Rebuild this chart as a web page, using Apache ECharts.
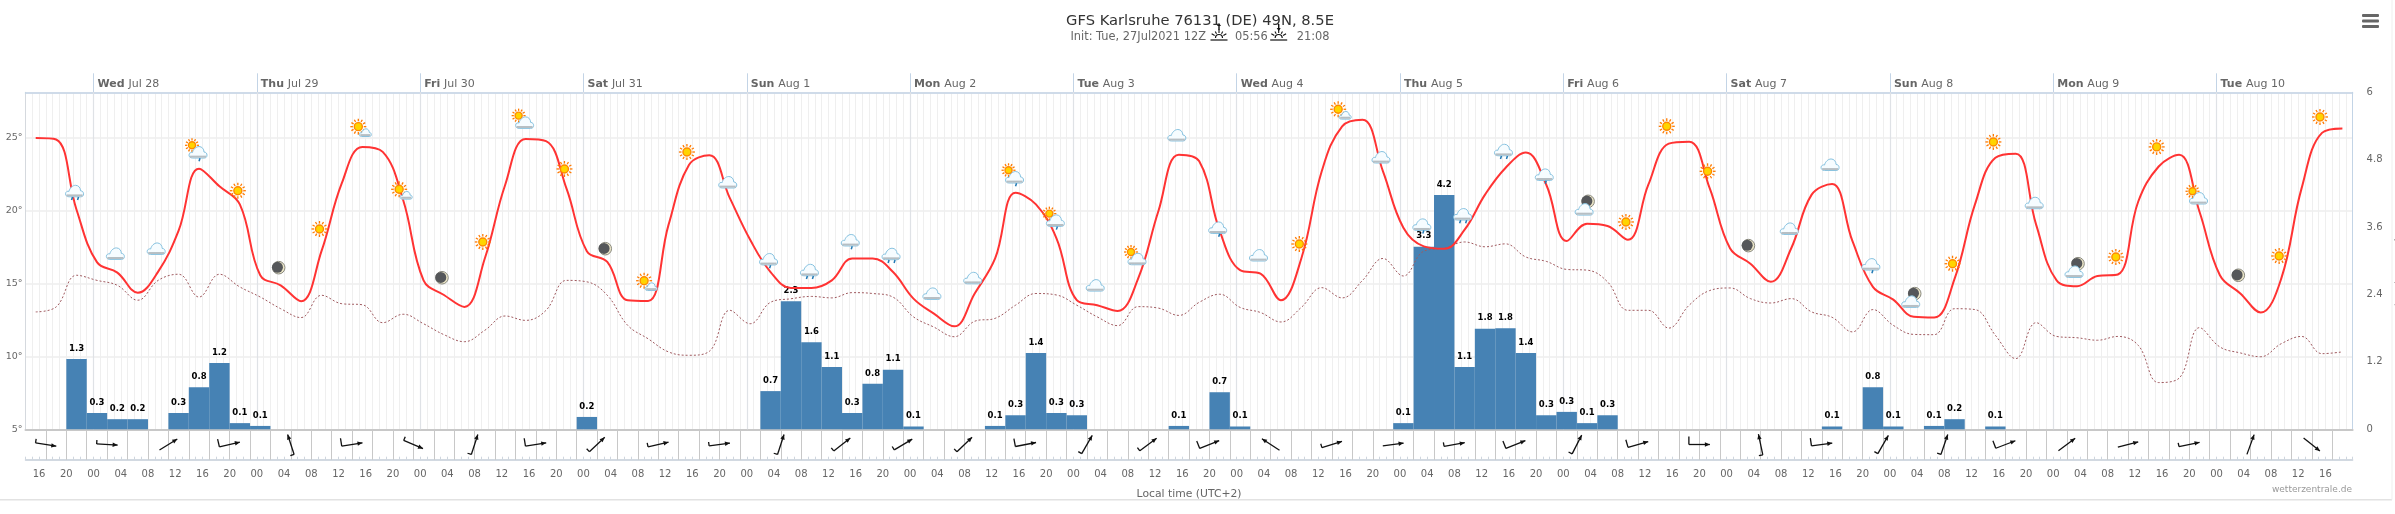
<!DOCTYPE html>
<html><head><meta charset="utf-8">
<style>html,body{margin:0;padding:0;background:#fff}#c{width:2395px;height:514px}</style>
<script src="https://cdn.jsdelivr.net/npm/echarts@6/dist/echarts.min.js"></script>
</head><body><div id="c"></div>
<script>
const FONT = '"DejaVu Sans", Verdana, sans-serif';
const startHour = 15.5, stepHours = 3;      // hours after Jul 27 00:00 local
const dayLabels = [['Wed','Jul 28'],['Thu','Jul 29'],['Fri','Jul 30'],['Sat','Jul 31'],['Sun','Aug 1'],['Mon','Aug 2'],['Tue','Aug 3'],['Wed','Aug 4'],['Thu','Aug 5'],['Fri','Aug 6'],['Sat','Aug 7'],['Sun','Aug 8'],['Mon','Aug 9'],['Tue','Aug 10']];
const temperature = [24.95,24.85,20.04,16.45,15.73,14.36,15.8,18.6,22.85,21.64,20.4,15.55,14.86,13.77,17.2,21.87,24.34,24.0,20.7,15.2,14.2,13.38,16.7,21.75,24.88,24.73,21.5,17.2,16.46,13.84,13.79,19.0,23.1,23.77,20.85,17.98,15.77,14.68,14.68,15.2,16.7,16.7,15.77,13.95,12.92,12.05,14.3,16.7,21.2,20.4,18.1,13.84,13.5,13.1,15.3,19.95,23.8,23.35,18.6,15.9,15.66,13.84,16.7,22.67,25.75,26.2,22.67,18.8,17.53,17.37,18.67,21.07,22.9,23.95,21.75,17.9,19.08,18.92,17.98,21.75,24.56,24.7,21.53,17.4,16.34,15.1,17.4,21.07,21.8,17.88,14.75,13.88,12.7,12.65,15.3,20.4,23.6,23.88,19.0,15.2,14.8,15.5,15.6,20.6,23.0,23.8,19.9,15.55,14.3,13.0,15.3,21.5,25.3,25.6];
const dewPoint = [13.04,13.38,15.55,15.2,14.86,13.84,15.2,15.62,14.06,15.62,14.75,14.06,13.26,12.65,14.18,13.6,13.53,12.3,12.88,12.23,11.48,11.0,11.78,12.76,12.46,13.15,15.2,15.1,14.18,12.12,11.2,10.3,10.07,10.34,13.15,12.23,13.7,13.94,14.1,14.0,14.36,14.3,14.05,12.7,12.0,11.34,12.4,12.6,13.5,14.3,14.2,13.5,12.7,12.1,13.4,13.3,12.8,13.7,14.25,13.35,13.0,12.35,13.35,14.7,14.0,15.2,16.7,15.5,17.2,17.4,17.83,17.5,17.7,16.8,16.5,15.95,15.9,15.1,13.15,13.15,11.93,13.5,14.5,14.68,13.95,13.65,13.95,13.04,12.67,11.67,13.2,12.12,11.5,11.48,13.26,13.2,11.44,9.84,12.3,11.36,11.27,11.1,11.36,10.75,8.2,8.5,11.96,10.64,10.23,9.97,10.86,11.36,10.18,10.3];
const precipitation = [0,0,1.25,0.29,0.18,0.18,0,0.29,0.75,1.18,0.11,0.06,0,0,0,0,0,0,0,0,0,0,0,0,0,0,0,0.22,0,0,0,0,0,0,0,0,0.68,2.28,1.55,1.11,0.29,0.81,1.06,0.05,0,0,0,0.06,0.25,1.36,0.29,0.25,0,0,0,0,0.06,0,0.66,0.05,0,0,0,0,0,0,0,0.11,3.25,4.17,1.11,1.79,1.8,1.36,0.25,0.31,0.11,0.25,0,0,0,0,0,0,0,0,0,0,0.05,0,0.75,0.05,0,0.06,0.18,0,0.05,0,0,0,0,0,0,0,0,0,0,0,0,0,0,0,0,0];
const iconHours = 21.5;  // first weather icon, then one every 6 hours
const iconKinds = ['rain2','cloud','cloud','cloudSunRain','sun','moon','sun','sunCloud','sunCloud','moon','sun','cloudSun','sun','moon','sunCloud','sun','cloud','rain1','rain2','rain1','rain2','cloud','cloud','cloudSunRain','cloudSunRain','cloud','cloudSun','cloud','rain1','cloud','sun','sunCloud','cloud','rain1','rain2','rain2','rain1','moonCloud','sun','sun','sun','moon','cloud','cloud','rain1','moonCloud','sun','sun','cloud','moonCloud','sun','sun','cloudSun','moon','sun','sun'];
const iconLevels = [21.18,17.03,17.37,24.04,21.34,16.07,18.72,25.59,21.3,15.38,17.83,26.14,22.83,17.37,15.04,23.99,21.92,16.58,15.77,17.88,16.87,14.29,15.36,22.33,19.36,14.86,16.8,25.14,18.74,16.92,17.69,26.78,23.63,18.95,19.59,23.99,22.37,20.27,19.2,25.75,22.67,17.58,18.74,23.12,16.23,13.95,16.34,24.68,20.5,16.0,16.8,24.34,20.96,15.55,16.87,26.39];
const windStartHour = 17, windStepHours = 9;
const windDirections = [99,93,58,77,342,81,113,18,81,47,77,82,18,52,59,46,79,30,53,68,303,73,82,80,68,27,74,90,348,82,30,19,69,53,76,78,20,129];
const windBarbs = [1,1,0,2,1,2,1,1,2,1,1,1,1,1,1,1,2,1,1,2,0,1,0,1,2,1,2,2,1,2,1,1,2,0,0,1,0,0];

const hours = temperature.map((_, i) => startHour + i * stepHours);
const pair = a => a.map((v, i) => [hours[i], v]);
const dayHours = dayLabels.map((_, i) => 24 * (i + 1));
const xMin = 14, xMax = 356;
const fourHours = [], threeHours = [];
for (let h = 16; h < xMax; h += 4) fourHours.push(h);
for (let h = 17; h < xMax; h += 3) threeHours.push(h);

/* ---- little pictograms ---- */
const CLOUD = 'M3.5 11.5C1 11.5 0 10 0 8.5C0 6.5 2 5.5 3.5 6C4 3 7 0 10 0C13 0 15 2.5 15 5.5C17 5.5 18 7 18 8.5C18 10.5 17 11.5 15 11.5Z';
function cloud(cx, cy, w) {
  const h = w * 11.5 / 18;
  return [{type:'path',shape:{pathData:CLOUD,layout:'cover',x:cx-w/2,y:cy-h/2,width:w,height:h},style:{fill:'#f6fcff',stroke:'#86c2e0',lineWidth:1}},
          {type:'rect',shape:{x:cx-w/2+1,y:cy+h/2-2.4,width:w-2,height:2},style:{fill:'#b7bfc4'}}];
}
function sun(cx, cy, r) {
  const out = [];
  for (let k = 0; k < 12; k++) {
    const a = k * Math.PI / 6, c = Math.cos(a), s = Math.sin(a);
    out.push({type:'line',shape:{x1:cx+c*r*.68,y1:cy+s*r*.68,x2:cx+c*r,y2:cy+s*r},style:{stroke:'#ff7a00',lineWidth:1.3}});
  }
  out.push({type:'circle',shape:{cx,cy,r:r*.5},style:{fill:'#ffd400',stroke:'#ff8a00',lineWidth:1.4}});
  return out;
}
function drops(cx, cy, n) {
  const out = [];
  const xs = n === 2 ? [-3, 3] : [1];
  xs.forEach(d => out.push({type:'line',shape:{x1:cx+d+1,y1:cy,x2:cx+d,y2:cy+3},style:{stroke:'#1f78b4',lineWidth:1.5}}));
  return out;
}
function moon(cx, cy) {
  return [{type:'circle',shape:{cx,cy,r:6.3},style:{fill:'#ece6c8',stroke:'#8a8a80',lineWidth:1}},
          {type:'circle',shape:{cx:cx-1.2,cy:cy-.3,r:5.5},style:{fill:'#55575a'}}];
}
function icon(kind, x, y) {
  switch (kind) {
    case 'sun': return sun(x, y, 8);
    case 'cloud': return cloud(x, y, 18);
    case 'rain1': return cloud(x, y-1, 18).concat(drops(x, y+5, 1));
    case 'rain2': return cloud(x, y-2, 18).concat(drops(x, y+4, 2));
    case 'sunCloud': return sun(x-2, y-2, 8).concat(cloud(x+5, y+4, 12));
    case 'cloudSun': return sun(x-5, y-5, 7).concat(cloud(x+1, y+2, 18));
    case 'cloudSunRain': return sun(x-5, y-6, 7).concat(cloud(x+1, y+1, 18), drops(x+1, y+7, 1));
    case 'moon': return moon(x, y);
    case 'moonCloud': return moon(x+3, y-5).concat(cloud(x-1, y+3, 18));
  }
  return [];
}
function windGlyph(x, y, dir, barb) {
  const a = dir * Math.PI / 180, dx = Math.sin(a), dy = -Math.cos(a), L = 10.5;
  const tx = x - dx*L, ty = y - dy*L, hx = x + dx*L, hy = y + dy*L;
  const px = dy, py = -dx;
  const out = [{type:'line',shape:{x1:tx,y1:ty,x2:hx,y2:hy},style:{stroke:'#111',lineWidth:1.3}},
    {type:'polygon',shape:{points:[[hx,hy],[hx-dx*5+px*2.2,hy-dy*5+py*2.2],[hx-dx*5-px*2.2,hy-dy*5-py*2.2]]},style:{fill:'#111'}}];
  if (barb) { const b = barb === 2 ? 8 : 4;
    out.push({type:'line',shape:{x1:tx,y1:ty,x2:tx+px*b,y2:ty+py*b},style:{stroke:'#111',lineWidth:1.3}}); }
  return out;
}
function riseSet(cx, up) {
  const base = 40, kids = [];
  kids.push({type:'line',shape:{x1:cx-8.5,y1:base,x2:cx+8.5,y2:base},style:{stroke:'#111',lineWidth:1.2}});
  kids.push({type:'arc',shape:{cx,cy:base-2,r:3.5,startAngle:Math.PI,endAngle:0},style:{stroke:'#111',fill:'none',lineWidth:1.2}});
  [-60,-30,0,30,60].forEach(d => { const a=d*Math.PI/180,s=Math.sin(a),c=Math.cos(a);
    kids.push({type:'line',shape:{x1:cx+s*5,y1:base-2-c*5,x2:cx+s*(d%60?7.5:8.5),y2:base-2-c*(d%60?7.5:8.5)},style:{stroke:'#111',lineWidth:1.1}}); });
  kids.push({type:'line',shape:{x1:cx,y1:24,x2:cx,y2:30},style:{stroke:'#111',lineWidth:1.4}});
  kids.push({type:'polygon',shape:{points:up?[[cx,23],[cx-2,26],[cx+2,26]]:[[cx,31],[cx-2,28],[cx+2,28]]},style:{fill:'#111'}});
  return kids;
}

const chart = echarts.init(document.getElementById('c'), null, {renderer:'canvas', width:2395, height:514});
const labelCol = '#666666';
const GL = 25.5, GR = 2395 - 2352.6;
chart.setOption({
  animation:false,
  backgroundColor:'#ffffff',
  textStyle:{fontFamily:FONT},
  title:{text:'GFS Karlsruhe 76131 (DE) 49N, 8.5E',
    subtext:'Init: Tue, 27Jul2021 12Z        05:56        21:08',
    left:1195, textAlign:'center', top:8, itemGap:1,
    textStyle:{fontFamily:FONT,fontSize:14.7,fontWeight:'normal',color:'#333333',lineHeight:17},
    subtextStyle:{fontFamily:FONT,fontSize:11.4,color:'#666666',lineHeight:13}},
  grid:[{left:GL,right:GR,top:92.3,height:337,containLabel:false,outerBoundsMode:'none'},
        {left:GL,right:GR,top:429.3,height:30.4,containLabel:false,outerBoundsMode:'none'}],
  xAxis:[
    // 0: hourly grid lines
    {type:'value',gridIndex:0,min:xMin,max:xMax,interval:1,position:'bottom',
      axisLine:{show:true,onZero:false,lineStyle:{color:'#c8c8c8',width:2}},axisTick:{show:false},axisLabel:{show:false},
      splitLine:{show:true,lineStyle:{color:'#efefef',width:1}}},
    // 1: top day axis
    {type:'value',gridIndex:0,min:xMin,max:xMax,position:'top',
      axisLine:{show:true,onZero:false,lineStyle:{color:'#c3d4e6',width:1.5}},
      axisTick:{show:true,customValues:dayHours,length:19,lineStyle:{color:'#c3d4e6',width:1}},
      axisLabel:{show:true,customValues:dayHours,align:'left',margin:2,
        formatter:v=>{const d=dayLabels[v/24-1];return d?`{b|${d[0]}} {n|${d[1]}}`:'';},
        rich:{b:{fontFamily:FONT,fontWeight:'bold',fontSize:11,color:'#666666',padding:[0,0,0,4]},n:{fontFamily:FONT,fontSize:11,color:'#666666'}}},
      splitLine:{show:false}},
    // 2: day grid lines
    {type:'value',gridIndex:0,min:xMin,max:xMax,position:'bottom',
      axisLine:{show:false},axisTick:{show:true,inside:true,customValues:dayHours,length:337,lineStyle:{color:'#dfe2e6',width:1.2}},
      axisLabel:{show:false},splitLine:{show:false}},
    // 3: bottom hour axis
    {type:'value',gridIndex:1,min:xMin,max:xMax,interval:1,position:'bottom',
      name:'Local time (UTC+2)',nameLocation:'middle',nameGap:29,nameTextStyle:{fontFamily:FONT,fontSize:10.8,color:labelCol},
      axisLine:{show:true,onZero:false,lineStyle:{color:'#c4cdd8',width:1.5}},
      axisTick:{show:true,inside:true,length:3,lineStyle:{color:'#cfd6de',width:1}},
      axisLabel:{show:true,customValues:fourHours,margin:10,fontFamily:FONT,fontSize:10,color:labelCol,
        formatter:v=>String(v%24).padStart(2,'0')},
      splitLine:{show:false}},
    // 4: wind box separators
    {type:'value',gridIndex:1,min:xMin,max:xMax,position:'bottom',
      axisLine:{show:false},axisTick:{show:true,inside:true,customValues:threeHours,length:30.4,lineStyle:{color:'#c8c8c8',width:1}},
      axisLabel:{show:false},splitLine:{show:false}}
  ],
  yAxis:[
    {type:'value',gridIndex:0,min:5,max:28.08,interval:5,position:'left',
      axisLine:{show:true,onZero:false,lineStyle:{color:'#d5d9de',width:1}},axisTick:{show:false},
      axisLabel:{show:true,showMaxLabel:false,margin:3,fontFamily:FONT,fontSize:9.5,color:labelCol,formatter:v=>v+'°'},
      splitLine:{show:true,lineStyle:{color:'#eeeeee',width:1.6}}},
    {type:'value',gridIndex:0,min:0,max:6,interval:1.2,position:'right',
      name:'Precipitation (mm)',nameLocation:'middle',nameRotate:-90,nameGap:35,nameTextStyle:{fontFamily:FONT,fontSize:10,color:labelCol},
      axisLine:{show:true,onZero:false,lineStyle:{color:'#c3d4e6',width:1}},axisTick:{show:false},
      axisLabel:{show:true,margin:14,align:'left',fontFamily:FONT,fontSize:10,color:labelCol},
      splitLine:{show:false}},
    {type:'value',gridIndex:1,min:0,max:1,show:false}
  ],
  series:[
    {type:'bar',name:'Precipitation',xAxisIndex:0,yAxisIndex:1,data:pair(precipitation),barWidth:'100%',z:2,
      itemStyle:{color:'#4682b4'},
      label:{show:true,position:'top',distance:6,fontFamily:FONT,fontWeight:'bold',fontSize:8.5,color:'#000',
        formatter:p=>p.value[1]>0?p.value[1].toFixed(1):''}},
    {type:'line',name:'Dew point',xAxisIndex:0,yAxisIndex:0,data:pair(dewPoint),smooth:.4,showSymbol:false,z:3,
      lineStyle:{color:'#a05a5f',width:1,type:[2,2]}},
    {type:'line',name:'Temperature',xAxisIndex:0,yAxisIndex:0,data:pair(temperature),smooth:.4,showSymbol:false,z:4,
      lineStyle:{color:'#ff3333',width:2}},
    {type:'custom',name:'Weather',xAxisIndex:0,yAxisIndex:0,z:5,clip:false,
      data:iconKinds.map((k,i)=>[iconHours+6*i,iconLevels[i],i]),
      renderItem:(p,api)=>{const c=api.coord([api.value(0),api.value(1)]);
        return {type:'group',children:icon(iconKinds[api.value(2)],c[0]-2,c[1])};}},
    {type:'custom',name:'Wind',xAxisIndex:3,yAxisIndex:2,z:5,clip:false,
      data:windDirections.map((d,i)=>[windStartHour+windStepHours*i,0.5,d,windBarbs[i]]),
      renderItem:(p,api)=>{const c=api.coord([api.value(0),api.value(1)]);
        return {type:'group',children:windGlyph(c[0],c[1],api.value(2),api.value(3))};}}
  ],
  graphic:[
    {type:'group',silent:true,children:riseSet(1219,true)},
    {type:'group',silent:true,children:riseSet(1278.7,false)},
    {type:'rect',shape:{x:2362,y:14,width:17,height:3,r:1},style:{fill:'#666'}},
    {type:'rect',shape:{x:2362,y:19.5,width:17,height:3,r:1},style:{fill:'#666'}},
    {type:'rect',shape:{x:2362,y:25,width:17,height:3,r:1},style:{fill:'#666'}},
    {type:'line',shape:{x1:0,y1:499.7,x2:2392,y2:499.7},style:{stroke:'#e2e2e2',lineWidth:1.5}},
    {type:'line',shape:{x1:2392,y1:0,x2:2392,y2:499.7},style:{stroke:'#efefef',lineWidth:1}},
    {type:'text',x:2352,y:485,style:{text:'wetterzentrale.de',align:'right',fontFamily:FONT,fontSize:9,fill:'#999999'}}
  ]
});
</script></body></html>
